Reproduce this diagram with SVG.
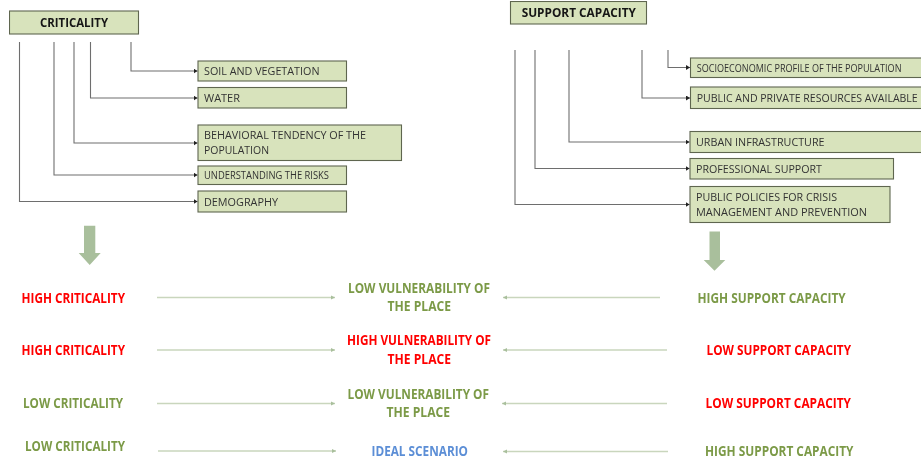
<svg xmlns="http://www.w3.org/2000/svg" width="921" height="459" viewBox="0 0 921 459">
<style>
text{font-family:"Open Sans","Liberation Sans",sans-serif}
.box{fill:#d8e3bc;stroke:#5f6650;stroke-width:1.1}
.t{font-size:11.500px;fill:#333}
.s{font-size:10px;fill:#333}
.h{font-size:12.500px;font-weight:700;fill:#151515}
.r{font-size:15px;font-weight:700}
.red{fill:#ff0000}.grn{fill:#7b9a47}.blu{fill:#5b8ed6}
.c{fill:none;stroke:#6e6e6e;stroke-width:1.1;marker-end:url(#a)}
.f{fill:none;stroke:#c9d6bd;stroke-width:1.3;marker-end:url(#b)}
.block{fill:#a9bf9c}
</style>
<defs>
<marker id="a" markerUnits="userSpaceOnUse" markerWidth="5" markerHeight="5" refX="4" refY="2.5" orient="auto"><path d="M0 0L4 2.5L0 5Z" fill="#222"/></marker>
<marker id="b" markerUnits="userSpaceOnUse" markerWidth="5" markerHeight="5" refX="4" refY="2.5" orient="auto"><path d="M0 0.5L4 2.5L0 4.5Z" fill="#a9bf9c"/></marker>
<filter id="soft" x="0" y="0" width="100%" height="100%"><feGaussianBlur stdDeviation="0.35"/></filter>
</defs>
<rect width="921" height="459" fill="#fff"/>
<g filter="url(#soft)">
<g id="connectors">
<path class="c" d="M131 42V71H197.500"/>
<path class="c" d="M90.500 42V98H197.500"/>
<path class="c" d="M74 42V143H197.500"/>
<path class="c" d="M54 42V175H197.500"/>
<path class="c" d="M19.500 42V201.500H197.500"/>
<path class="c" d="M668 50V67.500H690"/>
<path class="c" d="M642 50V98H690"/>
<path class="c" d="M569 50V142H689.500"/>
<path class="c" d="M535 50V168.500H689.500"/>
<path class="c" d="M515 50V204.500H689.500"/>
<path class="f" d="M157 297.500H335"/>
<path class="f" d="M157 350H335"/>
<path class="f" d="M157 403.500H335"/>
<path class="f" d="M158 451H336"/>
<path class="f" d="M660 297.500H503"/>
<path class="f" d="M667 350H503"/>
<path class="f" d="M667 403.500H502"/>
<path class="f" d="M668 451.500H503"/>
</g>
<g id="criticality"><rect class="box" x="9.500" y="11" width="129" height="23"/><text class="h" x="40" y="27" textLength="68" lengthAdjust="spacingAndGlyphs">CRITICALITY</text></g>
<g id="soil"><rect class="box" x="198" y="61" width="148.500" height="20"/><text class="t" x="204" y="75" textLength="115.500" lengthAdjust="spacingAndGlyphs">SOIL AND VEGETATION</text></g>
<g id="water"><rect class="box" x="198" y="87.500" width="148.500" height="20.500"/><text class="t" x="204" y="102" textLength="36" lengthAdjust="spacingAndGlyphs">WATER</text></g>
<g id="behavioral"><rect class="box" x="198" y="125" width="203.500" height="35.500"/><text class="t" x="204" y="139" textLength="162" lengthAdjust="spacingAndGlyphs">BEHAVIORAL TENDENCY OF THE</text><text class="t" x="204" y="154" textLength="65" lengthAdjust="spacingAndGlyphs">POPULATION</text></g>
<g id="understanding"><rect class="box" x="198" y="166" width="148.500" height="18.500"/><text class="s" x="204" y="178.700" textLength="125" lengthAdjust="spacingAndGlyphs">UNDERSTANDING THE RISKS</text></g>
<g id="demography"><rect class="box" x="198" y="191" width="148.500" height="21"/><text class="t" x="204" y="205.700" textLength="74" lengthAdjust="spacingAndGlyphs">DEMOGRAPHY</text></g>
<g id="support-capacity"><rect class="box" x="510.500" y="1.500" width="136" height="22.500"/><text class="h" x="521.700" y="17" textLength="114.300" lengthAdjust="spacingAndGlyphs">SUPPORT CAPACITY</text></g>
<g id="socioeconomic"><rect class="box" x="690.500" y="58" width="240" height="19.500"/><text class="s" x="696.700" y="71.700" textLength="204.800" lengthAdjust="spacingAndGlyphs">SOCIOECONOMIC PROFILE OF THE POPULATION</text></g>
<g id="resources"><rect class="box" x="690.500" y="87" width="240" height="21.500"/><text class="t" x="696.700" y="102" textLength="221" lengthAdjust="spacingAndGlyphs" style="font-size:10.500px">PUBLIC AND PRIVATE RESOURCES AVAILABLE</text></g>
<g id="urban"><rect class="box" x="690" y="131.500" width="240" height="21"/><text class="t" x="696" y="146" textLength="128.500" lengthAdjust="spacingAndGlyphs">URBAN INFRASTRUCTURE</text></g>
<g id="professional"><rect class="box" x="690" y="158.500" width="203.500" height="20.500"/><text class="t" x="696" y="172.700" textLength="126" lengthAdjust="spacingAndGlyphs">PROFESSIONAL SUPPORT</text></g>
<g id="policies"><rect class="box" x="690" y="186.500" width="200" height="36"/><text class="t" x="696" y="201.300" textLength="141" lengthAdjust="spacingAndGlyphs">PUBLIC POLICIES FOR CRISIS</text><text class="t" x="696" y="216" textLength="171" lengthAdjust="spacingAndGlyphs">MANAGEMENT AND PREVENTION</text></g>
<g id="arrow-left"><path class="block" d="M84 225.700H95.300V253H100.700L89.700 265L78.700 253H84Z"/></g>
<g id="arrow-right"><path class="block" d="M709.500 231.500H720V260H725.300L714.500 270.700L703.700 260H709.500Z"/></g>
<g id="row1-criticality"><text class="r red" x="21.500" y="302.500" textLength="103.500" lengthAdjust="spacingAndGlyphs">HIGH CRITICALITY</text></g>
<g id="row2-criticality"><text class="r red" x="21.500" y="354.500" textLength="103.500" lengthAdjust="spacingAndGlyphs">HIGH CRITICALITY</text></g>
<g id="row3-criticality"><text class="r grn" x="23" y="407.500" textLength="100" lengthAdjust="spacingAndGlyphs">LOW CRITICALITY</text></g>
<g id="row4-criticality"><text class="r grn" x="25" y="450.500" textLength="100" lengthAdjust="spacingAndGlyphs">LOW CRITICALITY</text></g>
<g id="row1-result"><text class="r grn" x="348" y="292.500" textLength="142" lengthAdjust="spacingAndGlyphs">LOW VULNERABILITY OF</text><text class="r grn" x="387.500" y="311" textLength="63.500" lengthAdjust="spacingAndGlyphs">THE PLACE</text></g>
<g id="row2-result"><text class="r red" x="347" y="345" textLength="144" lengthAdjust="spacingAndGlyphs">HIGH VULNERABILITY OF</text><text class="r red" x="387.500" y="363.500" textLength="63.500" lengthAdjust="spacingAndGlyphs">THE PLACE</text></g>
<g id="row3-result"><text class="r grn" x="347.500" y="398.500" textLength="141.500" lengthAdjust="spacingAndGlyphs">LOW VULNERABILITY OF</text><text class="r grn" x="386.500" y="417" textLength="63.500" lengthAdjust="spacingAndGlyphs">THE PLACE</text></g>
<g id="row4-result"><text class="r blu" x="371.500" y="456" textLength="96.500" lengthAdjust="spacingAndGlyphs">IDEAL SCENARIO</text></g>
<g id="row1-support"><text class="r grn" x="697.500" y="302.500" textLength="148.200" lengthAdjust="spacingAndGlyphs">HIGH SUPPORT CAPACITY</text></g>
<g id="row2-support"><text class="r red" x="706.500" y="355" textLength="144.500" lengthAdjust="spacingAndGlyphs">LOW SUPPORT CAPACITY</text></g>
<g id="row3-support"><text class="r red" x="705.500" y="408" textLength="145.500" lengthAdjust="spacingAndGlyphs">LOW SUPPORT CAPACITY</text></g>
<g id="row4-support"><text class="r grn" x="705" y="456" textLength="148.500" lengthAdjust="spacingAndGlyphs">HIGH SUPPORT CAPACITY</text></g>
</g>
</svg>
